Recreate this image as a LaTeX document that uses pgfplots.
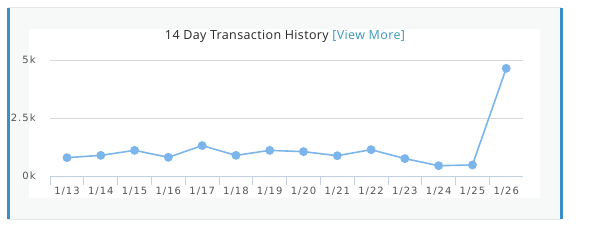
\documentclass[border=0pt]{standalone}
\usepackage{pgfplots}
\pgfplotsset{compat=1.18}
\usepackage{fontspec}
\setmainfont{Open Sans}
\newfontfamily\titlefont[LetterSpace=3]{Open Sans}
\newfontfamily\lblfont[LetterSpace=10]{DejaVu Sans}
\definecolor{panelbg}{HTML}{F7F8F8}
\definecolor{panelline}{HTML}{E4E6E6}
\definecolor{bluebar}{HTML}{3A8FC4}
\definecolor{series}{HTML}{7CB5EC}
\definecolor{gridc}{HTML}{D8D8D8}
\definecolor{axisc}{HTML}{C0D0E0}
\definecolor{lbl}{HTML}{555555}
\definecolor{linkc}{HTML}{3A9AB8}
\begin{document}
\begin{tikzpicture}[x=1bp,y=1bp]
\fill[white] (0,0) rectangle (594,242);
\fill[panelbg] (8,23) rectangle (561,234);
\draw[panelline,line width=1bp] (8,234) -- (561,234);
\draw[panelline,line width=1bp] (8,23) -- (561,23);
\fill[white] (29,44) rectangle (540,213);
\fill[bluebar] (7,23) rectangle (9.5,234);
\fill[bluebar] (560,23) rectangle (562.5,234);
\node[font=\titlefont\fontsize{12.5bp}{14bp}\selectfont, text=black!85] at (285,206) {14 Day Transaction History \textcolor{linkc}{[View More]}};
\begin{axis}[
  at={(67bp,66bp)}, anchor=origin,
  scale only axis,
  width=473bp, height=116bp,
  xmin=-0.5, xmax=13.5,
  ymin=0, ymax=5000,
  axis x line*=bottom,
  axis y line=none,
  x axis line style={axisc, line width=0.8bp, -},
  xtick={0,...,13},
  xticklabels={1/13,1/14,1/15,1/16,1/17,1/18,1/19,1/20,1/21,1/22,1/23,1/24,1/25,1/26},
  minor xtick={-0.5,0.5,...,12.5},
  major tick length=0pt,
  minor tick length=9bp,
  tick align=outside,
  minor tick style={axisc, line width=0.8bp},
  xticklabel style={font=\lblfont\fontsize{10bp}{11bp}\selectfont, text=lbl, yshift=-8bp},
  ytick=\empty,
  clip=false,
]
\draw[gridc, line width=0.8bp] (axis cs:-0.5,2500) -- (axis cs:13.5,2500);
\draw[gridc, line width=0.8bp] (axis cs:-0.5,5000) -- (axis cs:13.5,5000);
\node[anchor=east, font=\lblfont\fontsize{10bp}{11bp}\selectfont, text=lbl] at (axis cs:-0.5,0) [xshift=-11bp] {0k};
\node[anchor=east, font=\lblfont\fontsize{10bp}{11bp}\selectfont, text=lbl] at (axis cs:-0.5,2500) [xshift=-11bp] {2.5k};
\node[anchor=east, font=\lblfont\fontsize{10bp}{11bp}\selectfont, text=lbl] at (axis cs:-0.5,5000) [xshift=-11bp] {5k};
\addplot[series, line width=1.6bp, mark=*, mark size=3.6bp, mark options={fill=series, draw=series}] coordinates {
(0,790) (1,890) (2,1105) (3,805) (4,1310) (5,890) (6,1105) (7,1050) (8,875) (9,1135) (10,750) (11,445) (12,475) (13,4640)
};
\end{axis}
\end{tikzpicture}
\end{document}
